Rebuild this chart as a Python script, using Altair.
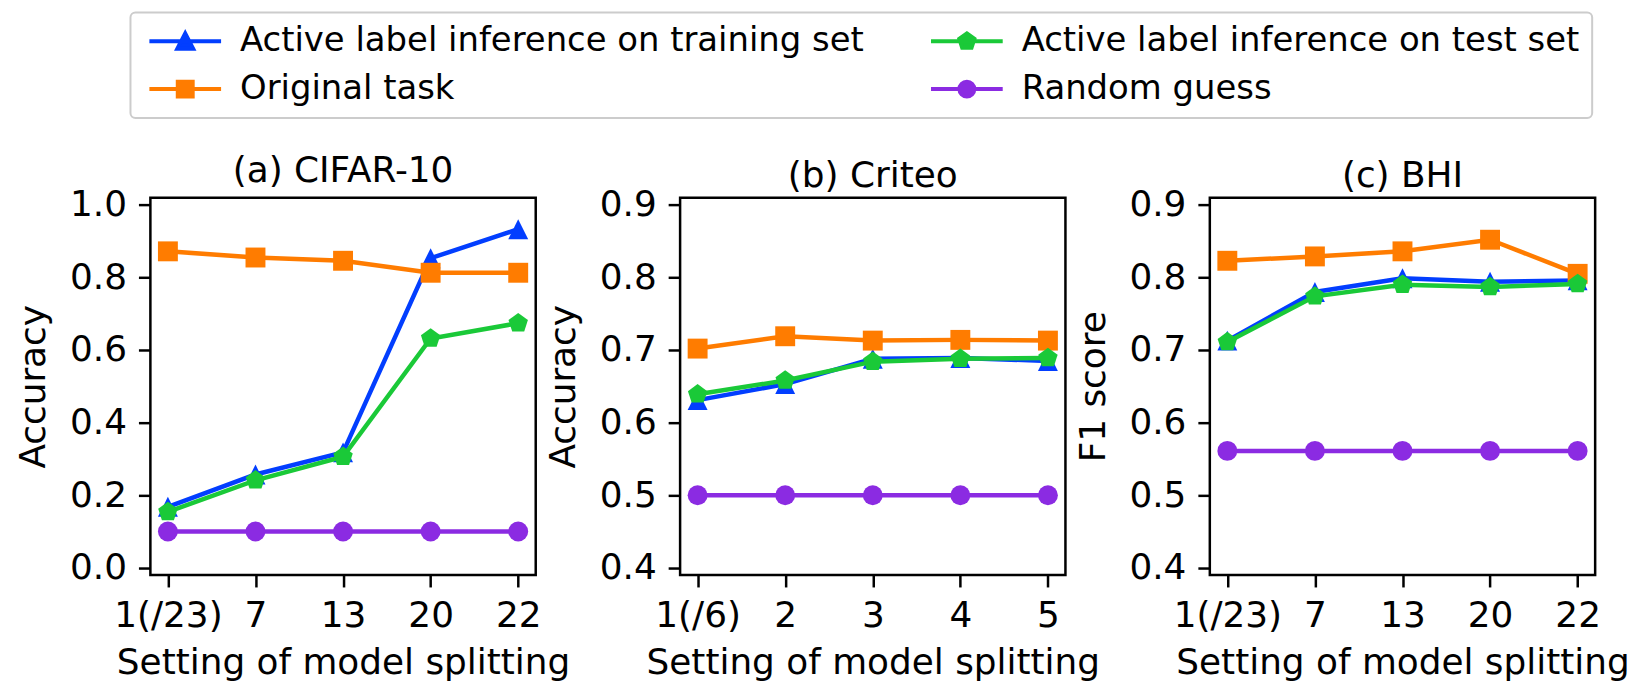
import altair as alt
import pandas as pd

# ---- data ----
# legend order (filled column by column): training, original | test, random
series_names = [
    "Active label inference on training set",
    "Original task",
    "Active label inference on test set",
    "Random guess",
]
series_colors = ["#023eff", "#ff7c00", "#1ac938", "#8b2be2"]
draw_order = [
    "Active label inference on training set",
    "Original task",
    "Active label inference on test set",
    "Random guess",
]

settings_a = ["1(/23)", "7", "13", "20", "22"]
settings_b = ["1(/6)", "2", "3", "4", "5"]
settings_c = ["1(/23)", "7", "13", "20", "22"]

cifar_train = [0.168, 0.257, 0.318, 0.853, 0.933]
cifar_test = [0.154, 0.241, 0.306, 0.632, 0.674]
cifar_orig = [0.872, 0.855, 0.846, 0.813, 0.813]
cifar_rand = [0.1, 0.1, 0.1, 0.1, 0.1]

criteo_train = [0.631, 0.653, 0.688, 0.689, 0.685]
criteo_test = [0.639, 0.658, 0.684, 0.688, 0.689]
criteo_orig = [0.702, 0.719, 0.713, 0.714, 0.713]
criteo_rand = [0.5, 0.5, 0.5, 0.5, 0.5]

bhi_train = [0.713, 0.780, 0.799, 0.794, 0.796]
bhi_test = [0.711, 0.774, 0.790, 0.787, 0.791]
bhi_orig = [0.823, 0.829, 0.836, 0.852, 0.805]
bhi_rand = [0.561, 0.561, 0.561, 0.561, 0.561]

yticks_a = [0.0, 0.2, 0.4, 0.6, 0.8, 1.0]
yticks_bc = [0.4, 0.5, 0.6, 0.7, 0.8, 0.9]

FONT = "DejaVu Sans"

marker_shape = {
    "Active label inference on training set": "M0,-1L1,1L-1,1Z",
    "Original task": "square",
    "Active label inference on test set": "M0,-1L0.951,-0.309L0.588,0.809L-0.588,0.809L-0.951,-0.309Z",
    "Random guess": "circle",
}
marker_size = {
    "Active label inference on training set": 400,
    "Original task": 400,
    "Active label inference on test set": 420,
    "Random guess": 400,
}
# legend symbols (line + marker), same order as series_names
legend_paths = [
    "M-3.6,0L3.6,0M0,-0.8L0.8,0.75L-0.8,0.75Z",
    "M-3.6,0L3.6,0M-0.75,-0.75L0.75,-0.75L0.75,0.75L-0.75,0.75Z",
    "M-3.6,0L3.6,0M0,-0.8L0.761,-0.247L0.47,0.647L-0.47,0.647L-0.761,-0.247Z",
    "M-3.6,0L3.6,0M-0.75,0A0.75,0.75,0,1,0,0.75,0A0.75,0.75,0,1,0,-0.75,0Z",
]

color_scale = alt.Scale(domain=series_names, range=series_colors)
shape_scale = alt.Scale(domain=series_names, range=legend_paths)

PW, PH = 387, 379


def make_df(settings, train, test, orig, rand):
    rows = []
    for name, vals in zip(
        ["Active label inference on training set", "Active label inference on test set",
         "Original task", "Random guess"],
        [train, test, orig, rand],
    ):
        for s, v in zip(settings, vals):
            rows.append({"setting": s, "series": name, "value": v})
    return pd.DataFrame(rows)


def leg():
    return alt.Legend(title=None, orient="none", legendX=-20, legendY=-186, columns=2)


def panel(title, settings, vals, ytitle, ydomain, yticks, with_legend=False):
    df = make_df(settings, *vals)
    base = alt.Chart(df).encode(
        x=alt.X(
            "setting:N",
            sort=settings,
            scale=alt.Scale(type="point", padding=0.2),
            axis=alt.Axis(title="Setting of model splitting", labelAngle=0),
        ),
        y=alt.Y(
            "value:Q",
            scale=alt.Scale(domain=ydomain, nice=False, zero=False),
            axis=alt.Axis(title=ytitle, values=yticks, format=".1f"),
        ),
    )
    layers = []
    if with_legend:
        layers.append(
            base.mark_point(filled=True, opacity=0).encode(
                fill=alt.Fill("series:N", scale=color_scale, legend=leg()),
                stroke=alt.Stroke("series:N", scale=color_scale, legend=leg()),
                shape=alt.Shape("series:N", scale=shape_scale, legend=leg()),
            )
        )
    for name in draw_order:
        sub = base.transform_filter(alt.datum.series == name)
        layers.append(
            sub.mark_line(strokeWidth=4.5).encode(
                color=alt.Color("series:N", scale=color_scale, legend=None)
            )
        )
        layers.append(
            sub.mark_point(
                filled=True, opacity=1, shape=marker_shape[name], size=marker_size[name]
            ).encode(color=alt.Color("series:N", scale=color_scale, legend=None))
        )
    return alt.layer(*layers).properties(width=PW, height=PH, title=title)


pa = panel(alt.TitleParams("(a) CIFAR-10", dy=171),
           settings_a, [cifar_train, cifar_test, cifar_orig, cifar_rand],
           "Accuracy", [-0.02, 1.02], yticks_a, with_legend=True)
pb = panel("(b) Criteo", settings_b, [criteo_train, criteo_test, criteo_orig, criteo_rand],
           "Accuracy", [0.39, 0.91], yticks_bc)
pc = panel("(c) BHI", settings_c, [bhi_train, bhi_test, bhi_orig, bhi_rand],
           "F1 score", [0.39, 0.91], yticks_bc)

chart = (
    alt.HConcatChart(hconcat=[pa, pb, pc], spacing=145, bounds="flush")
    .resolve_scale(fill="independent", stroke="independent", shape="independent")
    .resolve_legend(fill="independent", stroke="independent", shape="independent")
    .properties(padding={"left": 6, "top": 0, "right": 0, "bottom": 0}, background="white")
    .configure_view(stroke="black", strokeWidth=2.5)
    .configure_axis(
        domain=False,
        grid=False,
        ticks=True,
        tickColor="black",
        tickWidth=2.5,
        tickSize=12,
        labelFont=FONT,
        labelFontSize=36,
        labelColor="black",
        titleFont=FONT,
        titleFontSize=36,
        titleFontWeight="normal",
        titleColor="black",
    )
    .configure_axisX(labelPadding=12, titlePadding=12)
    .configure_axisY(labelPadding=12, titlePadding=17)
    .configure_title(font=FONT, fontSize=36, fontWeight="normal", color="black",
                     anchor="middle", offset=-8)
    .configure_legend(
        labelFont=FONT,
        labelFontSize=34,
        labelColor="black",
        labelLimit=2000,
        symbolSize=400,
        symbolStrokeWidth=4,
        symbolOffset=26,
        labelOffset=38,
        columnPadding=59,
        rowPadding=14,
        padding=12,
        strokeColor="#cccccc",
        strokeWidth=2,
        fillColor="white",
        cornerRadius=5,
        symbolOpacity=1,
    )
)

chart.save("out.html", embed_options={"renderer": "svg", "actions": False})
